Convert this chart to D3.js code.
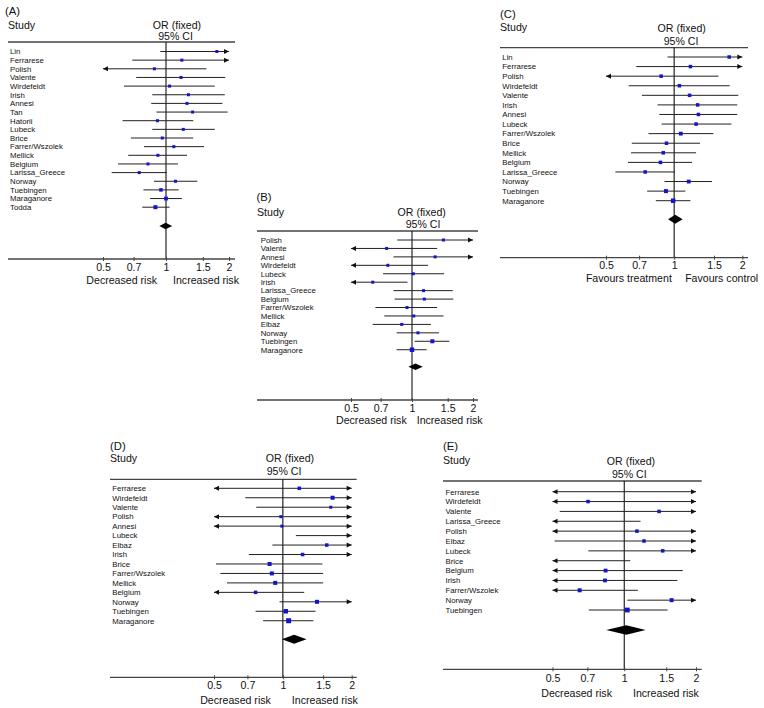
<!DOCTYPE html>
<html>
<head>
<meta charset="utf-8">
<script src="https://cdn.jsdelivr.net/npm/d3@7"></script>
<style>
  body { margin: 0; background: #fff; }
  text { font-family: "Liberation Sans", Arial, sans-serif; fill: #111; }
</style>
</head>
<body>
<svg id="chart" width="764" height="708"></svg>
<script>
// ===============================
// Data (odds ratios)
// values < 0.5 or > 2 run off the scale and get an arrow
// ===============================
const ticks = [0.5, 0.7, 1, 1.5, 2];
const tickLabels = ["0.5", "0.7", "1", "1.5", "2"];

// (A)
const studiesA = ["Lin", "Ferrarese", "Polish", "Valente", "Wirdefeldt", "Irish", "Annesi", "Tan", "Hatorii",
    "Lubeck", "Brice", "Farrer/Wszolek", "Mellick", "Belgium", "Larissa_Greece", "Norway", "Tuebingen",
    "Maraganore", "Todda"];
const orA   = [1.75, 1.19, 0.88, 1.18, 1.04, 1.28, 1.26, 1.34, 0.91, 1.21, 0.96, 1.09, 0.915, 0.82, 0.745, 1.11, 0.946, 1.0, 0.89];
const lowA  = [0.94, 0.69, 0.45, 0.72, 0.63, 0.86, 0.85, 0.90, 0.62, 0.86, 0.68, 0.785, 0.66, 0.59, 0.55, 0.876, 0.78, 0.84, 0.77];
const highA = [2.4, 2.4, 1.56, 1.92, 1.71, 1.91, 1.86, 1.97, 1.35, 1.71, 1.35, 1.52, 1.26, 1.14, 1.01, 1.41, 1.15, 1.19, 1.04];
const sizeA = [3, 3, 3, 3, 3, 3, 3, 3, 3, 3, 3, 3, 3, 3, 3, 3, 3.5, 3.8, 4];
const pooledA = [0.93, 0.995, 1.07];

// (B)
const studiesB = ["Polish", "Valente", "Annesi", "Wirdefeldt", "Lubeck", "Irish", "Larissa_Greece", "Belgium",
    "Farrer/Wszolek", "Mellick", "Elbaz", "Norway", "Tuebingen", "Maraganore"];
const orB   = [1.43, 0.75, 1.30, 0.76, 1.015, 0.64, 1.14, 1.15, 0.945, 1.02, 0.89, 1.07, 1.26, 1.0];
const lowB  = [0.846, 0.45, 0.81, 0.45, 0.72, 0.45, 0.81, 0.82, 0.66, 0.73, 0.64, 0.84, 1.03, 0.84];
const highB = [2.4, 1.33, 2.4, 1.2, 1.44, 0.95, 1.59, 1.6, 1.33, 1.43, 1.24, 1.36, 1.53, 1.18];
const sizeB = [3, 3, 3, 3, 3, 3, 3, 3, 3, 3, 3, 3, 4, 4.5];
const pooledB = [0.96, 1.04, 1.13];

// (C)
const studiesC = ["Lin", "Ferrarese", "Polish", "Wirdefeldt", "Valente", "Irish", "Annesi", "Lubeck",
    "Farrer/Wszolek", "Brice", "Mellick", "Belgium", "Larissa_Greece", "Norway", "Tuebingen", "Maraganore"];
const orC   = [1.75, 1.18, 0.876, 1.055, 1.17, 1.27, 1.28, 1.25, 1.07, 0.925, 0.895, 0.87, 0.745, 1.16, 0.92, 0.99];
const lowC  = [0.935, 0.68, 0.45, 0.63, 0.72, 0.845, 0.86, 0.88, 0.77, 0.65, 0.645, 0.625, 0.55, 0.906, 0.76, 0.83];
const highC = [2.4, 2.4, 1.57, 1.76, 1.92, 1.9, 1.9, 1.79, 1.49, 1.30, 1.25, 1.2, 1.01, 1.47, 1.12, 1.18];
const sizeC = [3.5, 3.5, 3.5, 3.5, 3.5, 3.5, 3.5, 3.5, 3.8, 3.5, 3.5, 3.5, 3.5, 3.8, 4, 4.5];
const pooledC = [0.94, 1.01, 1.09];

// (D)
const studiesD = ["Ferrarese", "Wirdefeldt", "Valente", "Polish", "Annesi", "Lubeck", "Elbaz", "Irish", "Brice",
    "Farrer/Wszolek", "Mellick", "Belgium", "Norway", "Tuebingen", "Maraganore"];
const orD   = [1.18, 1.65, 1.62, 0.98, 0.99, null, 1.556, 1.22, 0.875, 0.895, 0.926, 0.76, 1.41, 1.03, 1.06];
const lowD  = [0.45, 0.685, 0.765, 0.45, 0.45, 1.14, 0.90, 0.71, 0.51, 0.533, 0.57, 0.45, 0.967, 0.76, 0.82];
const highD = [2.4, 2.4, 2.4, 2.4, 2.4, 2.4, 2.4, 2.4, 1.49, 1.5, 1.5, 1.24, 2.4, 1.39, 1.36];
const sizeD = [3.5, 4, 3, 3, 3, 0, 3.5, 3.5, 4, 4, 4, 3.5, 4, 4.5, 5];
const pooledD = [0.99, 1.12, 1.27];

// (E)
const studiesE = ["Ferrarese", "Wirdefeldt", "Valente", "Larissa_Greece", "Polish", "Elbaz", "Lubeck", "Brice",
    "Belgium", "Irish", "Farrer/Wszolek", "Norway", "Tuebingen"];
const orE   = [null, 0.705, 1.40, null, 1.13, 1.21, 1.45, null, 0.835, 0.83, 0.65, 1.58, 1.03];
const lowE  = [0.45, 0.45, 0.536, 0.45, 0.45, 0.51, 0.707, 0.45, 0.45, 0.45, 0.45, 1.03, 0.71];
const highE = [2.4, 2.4, 2.4, 1.17, 2.4, 2.4, 2.4, 1.06, 1.76, 1.67, 1.14, 2.4, 1.52];
const sizeE = [0, 3.5, 3.5, 0, 3.5, 3.5, 3.5, 0, 3.8, 3.8, 4, 4, 4.8];
const pooledE = [0.84, 1.02, 1.23];

const riskLabels = ["Decreased risk", "Increased risk"];
const favourLabels = ["Favours treatment", "Favours control"];

// ===============================
// Panel layout
// ===============================
const layoutA = { title: "(A)", left: 8, right: 235, titleX: 5, titleY: 15, studyY: 29, labelX: 10,
    orX: 177, orY: 29, ciX: 175.5, ciY: 40, headY: 42, x05: 103, x2: 229, row0: 51.5, step: 8.65,
    diamondY: 226, diamondH: 3.3, axisY: 259, tickBase: 271, bottomY: 283.5, gapL: 9, gapR: 7, bottom: riskLabels };
const layoutB = { title: "(B)", left: 257, right: 478, titleX: 256.5, titleY: 201, studyY: 216, labelX: 260.7,
    orX: 421.7, orY: 216, ciX: 423, ciY: 228, headY: 231, x05: 351, x2: 473, row0: 240, step: 8.44,
    diamondY: 366.7, diamondH: 3.3, axisY: 400, tickBase: 411.5, bottomY: 424, gapL: 5.3, gapR: 4.7, bottom: riskLabels };
const layoutC = { title: "(C)", left: 500, right: 748, titleX: 500, titleY: 17.5, studyY: 31, labelX: 502.3,
    orX: 681.7, orY: 32, ciX: 681, ciY: 45, headY: 47.7, x05: 606, x2: 742.3, row0: 57, step: 9.58,
    diamondY: 219.3, diamondH: 4.5, axisY: 257.7, tickBase: 269, bottomY: 281.5, gapL: 2.3, gapR: 11, bottom: favourLabels };
const layoutD = { title: "(D)", left: 110, right: 356.7, titleX: 110, titleY: 449.5, studyY: 461.5, labelX: 112.3,
    orX: 290, orY: 461.5, ciX: 284, ciY: 475, headY: 479.3, x05: 214, x2: 351.7, row0: 488.3, step: 9.46,
    diamondY: 639.3, diamondH: 4.5, axisY: 677.3, tickBase: 689, bottomY: 703.5, gapL: 12, gapR: 9, bottom: riskLabels };
const layoutE = { title: "(E)", left: 443, right: 701.7, titleX: 443, titleY: 450, studyY: 464, labelX: 445.5,
    orX: 631, orY: 465, ciX: 629.3, ciY: 477.5, headY: 481, x05: 552.5, x2: 696, row0: 491.7, step: 9.86,
    diamondY: 630, diamondH: 4.7, axisY: 669.3, tickBase: 682.5, bottomY: 697, gapL: 12.3, gapR: 8.7, bottom: riskLabels };

const svg = d3.select("#chart");
svg.append("rect").attr("width", 764).attr("height", 708).attr("fill", "#fff");

drawPanel(layoutA, studiesA, orA, lowA, highA, sizeA, pooledA);
drawPanel(layoutB, studiesB, orB, lowB, highB, sizeB, pooledB);
drawPanel(layoutC, studiesC, orC, lowC, highC, sizeC, pooledC);
drawPanel(layoutD, studiesD, orD, lowD, highD, sizeD, pooledD);
drawPanel(layoutE, studiesE, orE, lowE, highE, sizeE, pooledE);

// ===============================
// One forest plot
// ===============================
function drawPanel(cfg, studies, or, low, high, size, pooled) {

    const g = svg.append("g");

    const x = d3.scaleLog()
        .domain([0.5, 2])
        .range([cfg.x05, cfg.x2]);

    const y = d3.scaleLinear()
        .domain([0, 1])
        .range([cfg.row0, cfg.row0 + cfg.step]);

    const rows = studies.map((s, i) => ({
        name: s, or: or[i], low: low[i], high: high[i], size: size[i], i: i
    }));

    // Headers
    g.append("text").attr("x", cfg.titleX).attr("y", cfg.titleY)
        .attr("font-size", 11.3).text(cfg.title);
    g.append("text").attr("x", cfg.left).attr("y", cfg.studyY)
        .attr("font-size", 10.6).text("Study");
    g.append("text").attr("x", cfg.orX).attr("y", cfg.orY)
        .attr("font-size", 10.6).attr("text-anchor", "middle").text("OR (fixed)");
    g.append("text").attr("x", cfg.ciX).attr("y", cfg.ciY)
        .attr("font-size", 10.6).attr("text-anchor", "middle").text("95% CI");

    g.append("line")
        .attr("x1", cfg.left).attr("x2", cfg.right)
        .attr("y1", cfg.headY).attr("y2", cfg.headY)
        .attr("stroke", "#444").attr("stroke-width", 1.3);

    // Line of no effect
    g.append("line")
        .attr("x1", x(1)).attr("x2", x(1))
        .attr("y1", cfg.headY).attr("y2", cfg.axisY)
        .attr("stroke", "#111").attr("stroke-width", 1.1);

    // Study names
    g.selectAll("text.study")
        .data(rows)
        .enter()
        .append("text")
        .attr("class", "study")
        .attr("x", cfg.labelX)
        .attr("y", d => y(d.i) + 2.8)
        .attr("font-size", 7.8)
        .text(d => d.name);

    // CI lines, clipped to the scale
    const lo = d => Math.max(d.low, 0.5);
    const hi = d => Math.min(d.high, 2);

    g.selectAll("line.ci")
        .data(rows)
        .enter()
        .append("line")
        .attr("class", "ci")
        .attr("x1", d => x(lo(d)))
        .attr("x2", d => x(hi(d)))
        .attr("y1", d => y(d.i))
        .attr("y2", d => y(d.i))
        .attr("stroke", "#222")
        .attr("stroke-width", 1);

    // Arrows for CIs that run off the scale
    g.selectAll("path.arrowL")
        .data(rows.filter(d => d.low < 0.5))
        .enter()
        .append("path")
        .attr("d", d => {
            const px = x(0.5), py = y(d.i);
            return `M${px},${py}L${px + 5},${py - 2.5}L${px + 5},${py + 2.5}Z`;
        })
        .attr("fill", "#111");

    g.selectAll("path.arrowR")
        .data(rows.filter(d => d.high > 2))
        .enter()
        .append("path")
        .attr("d", d => {
            const px = x(2), py = y(d.i);
            return `M${px},${py}L${px - 5},${py - 2.5}L${px - 5},${py + 2.5}Z`;
        })
        .attr("fill", "#111");

    // Point estimates
    g.selectAll("rect.pt")
        .data(rows.filter(d => d.or !== null && d.size > 0))
        .enter()
        .append("rect")
        .attr("x", d => x(d.or) - d.size / 2)
        .attr("y", d => y(d.i) - d.size / 2)
        .attr("width", d => d.size)
        .attr("height", d => d.size)
        .attr("fill", "#1414c8");

    // Pooled diamond
    const dy = cfg.diamondY;
    g.append("path")
        .attr("d", `M${x(pooled[0])},${dy}L${x(pooled[1])},${dy - cfg.diamondH}` +
                   `L${x(pooled[2])},${dy}L${x(pooled[1])},${dy + cfg.diamondH}Z`)
        .attr("fill", "#000");

    // Axis
    g.append("line")
        .attr("x1", cfg.left).attr("x2", cfg.right)
        .attr("y1", cfg.axisY).attr("y2", cfg.axisY)
        .attr("stroke", "#444").attr("stroke-width", 1.3);

    const ax = g.append("g")
        .attr("transform", `translate(0, ${cfg.axisY})`)
        .call(d3.axisBottom(x)
            .tickValues(ticks)
            .tickFormat((d, i) => tickLabels[i])
            .tickSize(2));

    ax.select(".domain").remove();
    ax.selectAll(".tick line").attr("y1", -2).attr("y2", 2).attr("stroke", "#444");
    ax.selectAll(".tick text")
        .attr("y", cfg.tickBase - cfg.axisY)
        .attr("dy", 0)
        .attr("font-size", 10.6)
        .attr("font-family", null)
        .attr("fill", "#111");

    g.append("text").attr("x", x(1) - cfg.gapL).attr("y", cfg.bottomY)
        .attr("font-size", 10.6).attr("text-anchor", "end").text(cfg.bottom[0]);
    g.append("text").attr("x", x(1) + cfg.gapR).attr("y", cfg.bottomY)
        .attr("font-size", 10.6).text(cfg.bottom[1]);
}
</script>
</body>
</html>
